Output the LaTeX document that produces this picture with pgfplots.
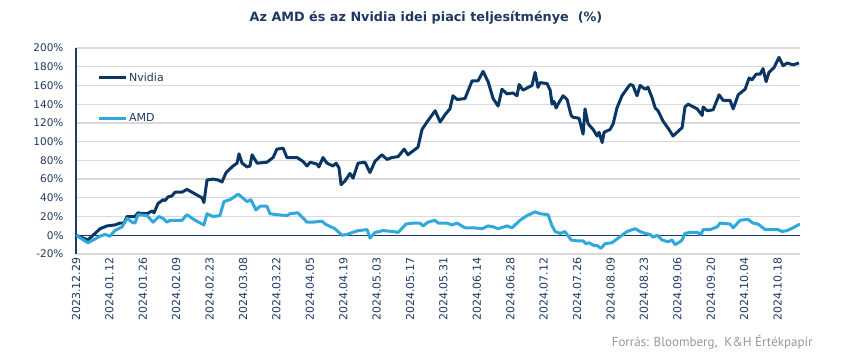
\documentclass[border=0pt]{standalone}
\usepackage{pgfplots}
\pgfplotsset{compat=1.18}
\usepackage{fontspec}
\setmainfont{DejaVu Sans}
\newfontfamily\srcfont{PT Sans}
\definecolor{nv}{RGB}{10,54,100}
\definecolor{amd}{RGB}{47,168,220}
\definecolor{txt}{RGB}{31,56,100}
\definecolor{gridc}{RGB}{217,217,217}
\definecolor{srcgray}{RGB}{150,150,150}
\begin{document}
\begin{tikzpicture}
\useasboundingbox (-76bp,-99bp) rectangle (774bp,254bp);
\begin{axis}[
  scale only axis, width=724bp, height=206bp,
  xmin=0, xmax=303.4, ymin=-20, ymax=200,
  axis x line*=bottom, axis y line*=left,
  x axis line style={draw=none},
  y axis line style={draw=txt, line width=1.2bp},
  major tick length=0pt,
  ytick={-20,0,20,40,60,80,100,120,140,160,180,200},
  yticklabels={-20\%,0\%,20\%,40\%,60\%,80\%,100\%,120\%,140\%,160\%,180\%,200\%},
  yticklabel style={font=\fontsize{10.5bp}{12bp}\selectfont, text=txt, anchor=east, xshift=-9bp},
  xtick={0,14,28,42,56,70,84,98,112,126,140,154,168,182,196,210,224,238,252,266,280,294},
  xticklabels={2023.12.29,2024.01.12,2024.01.26,2024.02.09,2024.02.23,2024.03.08,2024.03.22,2024.04.05,2024.04.19,2024.05.03,2024.05.17,2024.05.31,2024.06.14,2024.06.28,2024.07.12,2024.07.26,2024.08.09,2024.08.23,2024.09.06,2024.09.20,2024.10.04,2024.10.18},
  xticklabel style={font=\fontsize{11bp}{12bp}\selectfont, text=txt, rotate=90, anchor=east},
  ymajorgrids, grid style={draw=gridc, line width=1.2bp},
  extra y ticks={0}, extra y tick labels={},
  extra y tick style={grid style={draw=txt, line width=1bp}},
  legend style={at={(rel axis cs:0.029,0.89)}, anchor=north west, draw=none, fill=none,
    font=\fontsize{11bp}{13bp}\selectfont, text=txt, row sep=27bp, inner sep=0pt},
  legend cell align=left,
  legend image code/.code={\draw[#1, line width=3bp] (0bp,0bp) -- (27bp,0bp);},
]
\addplot[nv, line width=3bp, line join=round] coordinates {
(0,0)(5.0,-5)(10.1,7)(13.0,10)(16.3,11)(18.4,13)(20.1,13)(21.4,20)(23.5,20)(24.7,20)(26.0,24)(27.7,23)(29.8,23)(31.9,26)(32.7,24)(34.4,34)(36.5,38)(37.3,37)(38.6,41)(40.2,42)(41.5,46)(44.4,46)(46.5,49)(48.6,46)(50.7,43)(52.8,40)(53.6,35)(54.9,59)(57.4,60)(59.5,59)(61.2,57)(62.9,67)(65.8,74)(67.5,77)(68.3,87)(69.6,77)(71.7,73)(72.9,74)(73.8,86)(75.9,77)(80.0,78)(82.6,83)(84.2,92)(86.8,93)(88.4,83)(92.6,83)(95.1,79)(96.8,74)(98.1,78)(101.0,76)(101.8,73)(103.5,83)(105.2,77)(107.7,74)(109.0,77)(110.2,72)(111.1,54)(112.7,58)(114.8,66)(116.1,61)(118.2,77)(121.1,78)(123.2,67)(125.3,79)(128.2,86)(130.3,81)(132.4,83)(135.0,84)(137.5,92)(139.1,86)(141.2,90)(143.3,94)(145.0,113)(147.1,121)(150.5,133)(152.6,121)(154.7,129)(156.7,135)(158.0,149)(159.7,145)(163.0,146)(166.0,165)(168.5,165)(170.6,175)(172.7,164)(174.8,146)(176.9,138)(178.5,156)(180.6,151)(183.1,152)(184.8,149)(185.7,161)(187.3,155)(191.1,160)(192.4,174)(193.6,158)(194.5,163)(197.4,162)(198.7,155)(199.5,140)(200.3,143)(201.2,136)(202.0,140)(204.1,149)(205.8,145)(207.5,128)(208.3,126)(210.8,125)(212.5,108)(213.3,135)(214.6,119)(216.7,113)(218.4,106)(219.2,110)(220.5,99)(221.3,110)(223.8,113)(225.1,119)(226.7,136)(228.8,149)(231.3,158)(232.2,161)(233.4,160)(235.1,149)(236.4,160)(238.5,156)(239.7,158)(241.4,147)(242.7,136)(243.9,133)(246.0,122)(248.5,113)(250.2,106)(254.0,115)(255.2,137)(256.5,140)(260.3,135)(262.4,128)(262.8,137)(264.5,133)(267.0,134)(269.5,150)(271.2,144)(274.1,144)(275.4,135)(277.5,150)(280.4,156)(282.1,168)(283.3,166)(285.0,172)(286.7,172)(287.9,178)(289.2,164)(290.4,174)(292.5,179)(294.6,190)(296.3,181)(298.0,184)(300.5,182)(303.0,184)
};
\addlegendentry{Nvidia}
\addplot[amd, line width=3bp, line join=round] coordinates {
(0,0)(5.0,-8)(10.1,-1)(12.2,1)(14.2,-1)(16.3,5)(19.3,9)(21.4,18)(23.5,14)(24.7,13)(26.0,22)(29.8,21)(32.3,14)(34.8,20)(36.5,18)(38.1,14)(39.4,16)(42.3,16)(44.4,16)(46.5,22)(49.9,16)(53.6,11)(54.9,23)(57.4,20)(60.3,21)(62.0,36)(64.5,38)(65.8,40)(67.9,44)(71.7,36)(73.3,38)(75.4,27)(77.1,31)(80.0,31)(81.3,23)(84.2,22)(88.4,21)(89.7,23)(93.0,24)(96.8,14)(99.3,14)(103.1,15)(104.4,12)(108.5,7)(111.5,0)(113.6,1)(118.2,5)(122.0,6)(123.2,-3)(125.3,3)(128.7,5)(132.9,4)(135.0,3)(138.3,12)(141.2,13)(144.2,13)(145.4,10)(147.5,14)(150.5,16)(151.7,13)(155.5,13)(157.6,11)(159.7,13)(163.0,8)(166.4,8)(170.2,7)(172.7,10)(174.8,9)(176.9,7)(180.6,10)(182.7,8)(184.0,11)(186.1,16)(189.0,21)(192.4,25)(194.5,23)(197.8,22)(199.5,10)(200.8,4)(202.9,2)(204.9,4)(207.5,-5)(210.0,-6)(212.5,-6)(213.7,-9)(215.0,-8)(217.1,-11)(218.4,-11)(220.0,-14)(221.7,-9)(224.6,-8)(226.7,-4)(230.9,4)(234.3,7)(236.4,4)(238.5,2)(240.6,1)(241.8,-2)(243.5,0)(245.6,-5)(248.1,-7)(249.8,-5)(251.0,-10)(253.1,-7)(254.0,-5)(255.2,2)(257.3,3)(260.3,3)(261.9,1)(262.8,6)(265.7,6)(268.7,9)(269.9,13)(274.1,12)(275.4,8)(278.3,16)(281.6,17)(283.7,13)(285.8,12)(288.8,6)(294.2,6)(295.9,4)(298.0,5)(300.5,8)(303.4,12)
};
\addlegendentry{AMD}
\end{axis}
\node[font=\bfseries\fontsize{12.8bp}{15bp}\selectfont, text=txt] at (350bp,236bp) {Az AMD és az Nvidia idei piaci teljesítménye\ \ (\%)};
\node[anchor=east, font=\srcfont\fontsize{13bp}{15bp}\selectfont, text=srcgray] at (740bp,-88bp) {Forrás: Bloomberg,\ \ K\&H Értékpapír};
\end{tikzpicture}
\end{document}
